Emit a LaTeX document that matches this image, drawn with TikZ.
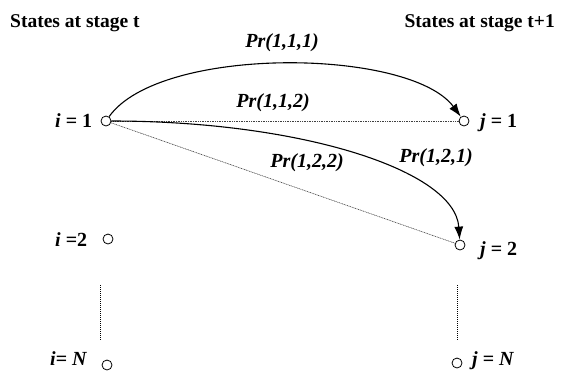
\documentclass[tikz,border=0pt]{standalone}
\usepackage{fontspec}
\setmainfont{Liberation Serif}
\usetikzlibrary{arrows.meta}
\begin{document}
\begin{tikzpicture}[x=1pt,y=-1pt,
  every node/.style={font=\fontsize{20}{24}\selectfont\bfseries},
  state/.style={draw, circle, minimum size=10pt, inner sep=0pt, line width=0.8pt},
  lbl/.style={anchor=base west, inner sep=0pt},
  heading/.style={inner sep=0pt, font=\fontsize{19.5}{24}\selectfont\bfseries},
  prob/.style={anchor=base, inner sep=0pt, font=\fontsize{20}{24}\selectfont\bfseries\itshape},
  trans/.style={line width=1.1pt, -{Latex[length=13pt,width=9pt]}},
  weak/.style={line width=0.6pt, black!75, dash pattern=on 1pt off 0.7pt},
  gap/.style={line width=1pt, dash pattern=on 1pt off 1pt}]
\useasboundingbox (0,0) rectangle (561,373);

% column headings
\node[heading, anchor=base west] (hl) at (10,27) {States at stage t};
\node[heading, anchor=base east] (hr) at (555,27) {States at stage t+1};

% states at stage t
\node[state] (i1) at (106,121) {};
\node[state] (i2) at (108,239) {};
\node[state] (iN) at (107,365) {};
\node[lbl] (li1) at (55,127) {\textit{i} = 1};
\node[lbl] (li2) at (55,246) {\textit{i} =2};
\node[lbl] (liN) at (50,365) {\textit{i}= \textit{N}};

% states at stage t+1
\node[state] (j1) at (464,121) {};
\node[state] (j2) at (460,245) {};
\node[state] (jN) at (457,363) {};
\node[lbl] (lj1) at (480,127) {\textit{j} = 1};
\node[lbl] (lj2) at (480,255) {\textit{j} = 2};
\node[lbl] (ljN) at (472,365) {\textit{j} = \textit{N}};

% omitted states
\coordinate (la) at (100,285);
\coordinate (lb) at (100,340);
\coordinate (ra) at (457,285);
\coordinate (rb) at (457,340);
\draw[gap] (la) -- (lb);
\draw[gap] (ra) -- (rb);

% transitions out of state 1
\draw[weak] (i1) -- (j1);
\draw[weak] (i1) -- (j2);
\draw[trans] (i1) .. controls (160,45) and (410,48) .. (j1);
\draw[trans] (i1) .. controls (300,121) and (455,170) .. (j2);

% transition probabilities
\node[prob] (p111) at (282,47.5) {Pr(1,1,1)};
\node[prob] (p112) at (273,107.5) {Pr(1,1,2)};
\node[prob] (p122) at (307,167.5) {Pr(1,2,2)};
\node[prob] (p121) at (436,162) {Pr(1,2,1)};
\end{tikzpicture}
\end{document}
